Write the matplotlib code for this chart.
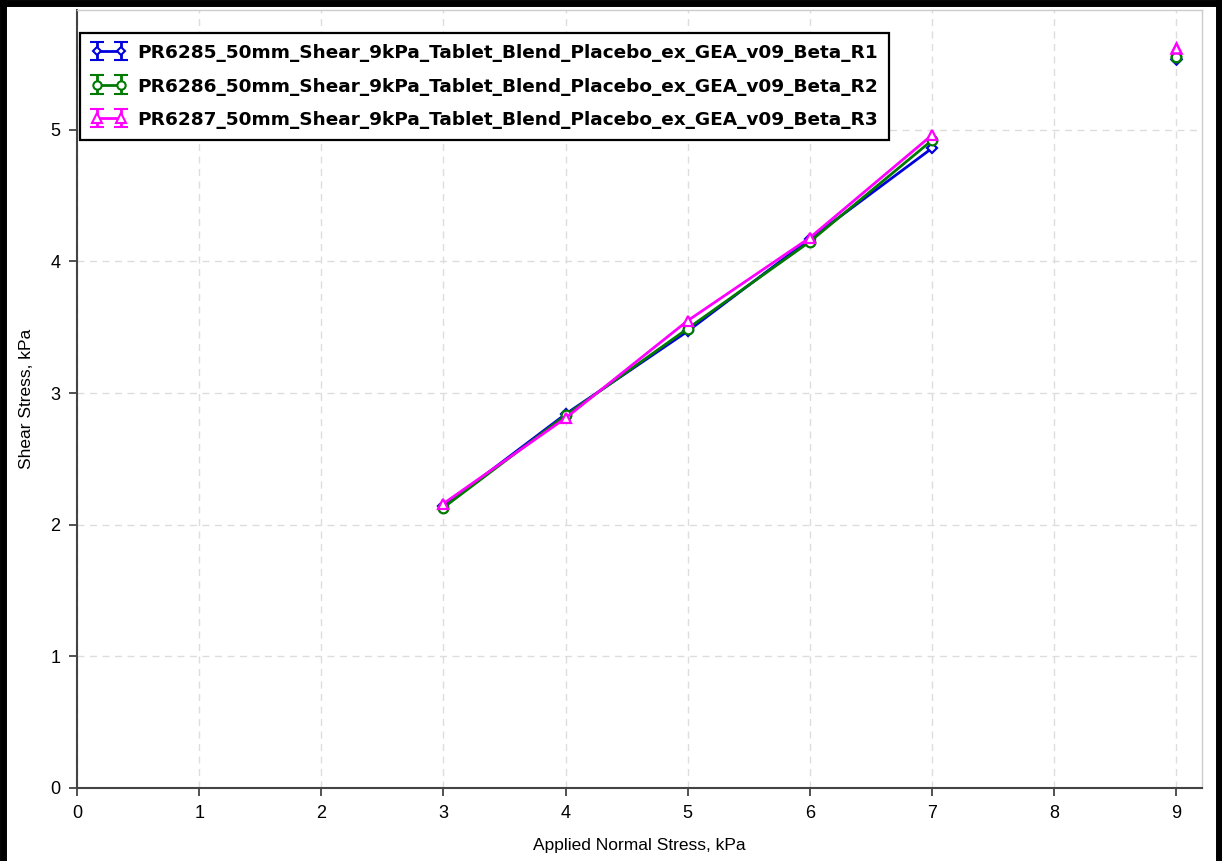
import numpy as np
import matplotlib
matplotlib.use("Agg")
import matplotlib.pyplot as plt
from matplotlib.lines import Line2D

plt.rcParams['font.family'] = ['Liberation Sans', 'DejaVu Sans']

# Applied normal stress (kPa) for the shear points and the pre-shear point
normal_stress = [3, 4, 5, 6, 7]
preshear_normal = 9

series_names = [
    "PR6285_50mm_Shear_9kPa_Tablet_Blend_Placebo_ex_GEA_v09_Beta_R1",
    "PR6286_50mm_Shear_9kPa_Tablet_Blend_Placebo_ex_GEA_v09_Beta_R2",
    "PR6287_50mm_Shear_9kPa_Tablet_Blend_Placebo_ex_GEA_v09_Beta_R3",
]
shear_r1 = [2.14, 2.84, 3.47, 4.17, 4.86]
shear_r2 = [2.13, 2.83, 3.49, 4.15, 4.92]
shear_r3 = [2.16, 2.81, 3.55, 4.18, 4.96]
preshear_r1 = 5.54
preshear_r2 = 5.55
preshear_r3 = 5.62

x_ticks = [0, 1, 2, 3, 4, 5, 6, 7, 8, 9]
y_ticks = [0, 1, 2, 3, 4, 5]

colors = ["#0000dd", "#007a00", "#ff00ff"]
markers = ["D", "o", "^"]
msizes = [5.5, 7, 7.5]

fig = plt.figure(figsize=(12.22, 8.61), dpi=100)
ax = fig.add_axes([0.063, 0.0848, 0.9206, 0.9036])

shear_all = [shear_r1, shear_r2, shear_r3]
pre_all = [preshear_r1, preshear_r2, preshear_r3]
handles = []
for name, ys, pre, c, m, ms in zip(series_names, shear_all, pre_all, colors, markers, msizes):
    ax.plot(normal_stress, ys, color=c, lw=2, marker=m, ms=ms,
            mfc="white", mec=c, mew=1.6, zorder=3)
    ax.plot([preshear_normal], [pre], color=c, lw=0, marker=m, ms=ms,
            mfc="white", mec=c, mew=1.8, zorder=3)
    # legend entry drawn as an error-bar glyph
    h = ax.errorbar([np.nan], [np.nan], yerr=[[1], [1]], color=c, lw=2,
                    marker=m, ms=ms - 1, mfc="white", mec=c, mew=1.5,
                    capsize=5, capthick=2, elinewidth=2, label=name)
    handles.append(h)

ax.set_xlim(0, 9.21)
ax.set_ylim(0, 5.91)
ax.set_xticks(x_ticks)
ax.set_yticks(y_ticks)
ax.tick_params(axis="both", labelsize=13, length=6, width=1.2,
               color="#333333", pad=6, direction="out")
ax.grid(True, ls=(0, (5, 4)), color="#dddddd", lw=1)
ax.set_axisbelow(True)

for side in ("left", "bottom"):
    ax.spines[side].set_color("#444444")
    ax.spines[side].set_linewidth(1.5)
for side in ("top", "right"):
    ax.spines[side].set_color("#cccccc")
    ax.spines[side].set_linewidth(1)

ax.set_xlabel("Applied Normal Stress, kPa", fontsize=12.5, labelpad=12)
ax.set_ylabel("Shear Stress, kPa", fontsize=12.5, labelpad=12)

leg = ax.legend(handles=handles, loc="upper left", bbox_to_anchor=(0.003, 0.9704),
                borderaxespad=0, numpoints=2, handlelength=1.9, handletextpad=0.6,
                prop={"family": "DejaVu Sans", "weight": "bold", "size": 13.3},
                fancybox=False, framealpha=1, edgecolor="black",
                labelspacing=0.84, borderpad=0.6, handleheight=0.9)
leg.get_frame().set_linewidth(1.6)

# black border on the left, top and right of the figure
for xs, ys in (([0.0025, 0.0025], [0, 1]), ([0, 1], [0.9965, 0.9965]),
               ([0.9975, 0.9975], [0, 1])):
    fig.add_artist(Line2D(xs, ys, transform=fig.transFigure, color="black", lw=5))

fig.savefig("out.png", dpi=100)
